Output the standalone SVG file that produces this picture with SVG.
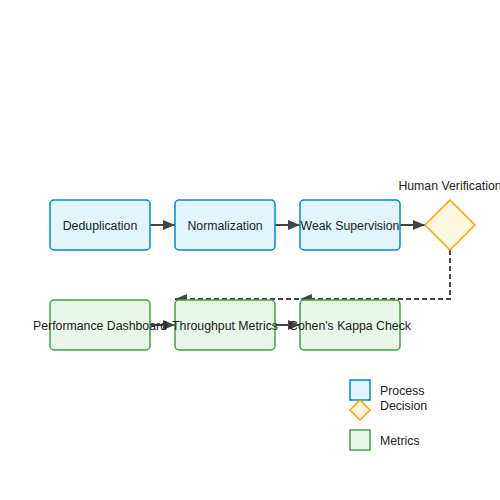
<svg xmlns="http://www.w3.org/2000/svg" width="500" height="500" viewBox="0 0 500 500">
<style>
text{font-family:"Liberation Sans",Arial,sans-serif;font-size:12.3px;fill:#222}
.p{fill:#e1f5fe;stroke:#0288d1;stroke-width:1.5}
.d{fill:#fff8e1;stroke:#ffa000;stroke-width:1.5}
.m{fill:#e8f5e9;stroke:#43a047;stroke-width:1.5}
.c{stroke:#444;stroke-width:2;fill:none;marker-end:url(#a)}
.dash{stroke-dasharray:5,3}
.t{text-anchor:middle;dominant-baseline:central}
</style>
<defs>
<marker id="a" viewBox="0 0 12 10" refX="12" refY="5" markerWidth="13" markerHeight="10" markerUnits="userSpaceOnUse" orient="auto">
<path d="M0,0L12,5L0,10z" fill="#444"/>
</marker>
</defs>
<rect width="500" height="500" fill="#fff"/>
<g id="connectors">
<path class="c" d="M150,225H175"/>
<path class="c" d="M275,225H300"/>
<path class="c" d="M400,225H425"/>
<path class="c dash" d="M450,250V299H300"/>
<path class="c dash" d="M450,250V299H175"/>
<path class="c" d="M150,325H175"/>
<path class="c" d="M275,325H300"/>
</g>
<g id="dedup"><rect class="p" x="50" y="200" width="100" height="50" rx="4"/><text class="t" x="100" y="226">Deduplication</text></g>
<g id="norm"><rect class="p" x="175" y="200" width="100" height="50" rx="4"/><text class="t" x="225" y="226">Normalization</text></g>
<g id="weak"><rect class="p" x="300" y="200" width="100" height="50" rx="4"/><text class="t" x="350" y="226">Weak Supervision</text></g>
<g id="human"><path class="d" d="M450,200L475,225L450,250L425,225z"/><text class="t" x="450" y="186">Human Verification</text></g>
<g id="perf"><rect class="m" x="50" y="300" width="100" height="50" rx="4"/><text class="t" x="100" y="326">Performance Dashboard</text></g>
<g id="thru"><rect class="m" x="175" y="300" width="100" height="50" rx="4"/><text class="t" x="225" y="326">Throughput Metrics</text></g>
<g id="kappa"><rect class="m" x="300" y="300" width="100" height="50" rx="4"/><text class="t" x="350" y="326">Cohen's Kappa Check</text></g>
<g id="legend">
<rect class="p" x="350" y="380" width="20" height="20"/>
<text x="380" y="395">Process</text>
<path class="d" d="M360,400L370,410L360,420L350,410z"/>
<text x="380" y="410">Decision</text>
<rect class="m" x="350" y="430" width="20" height="20"/>
<text x="380" y="445">Metrics</text>
</g>
</svg>
